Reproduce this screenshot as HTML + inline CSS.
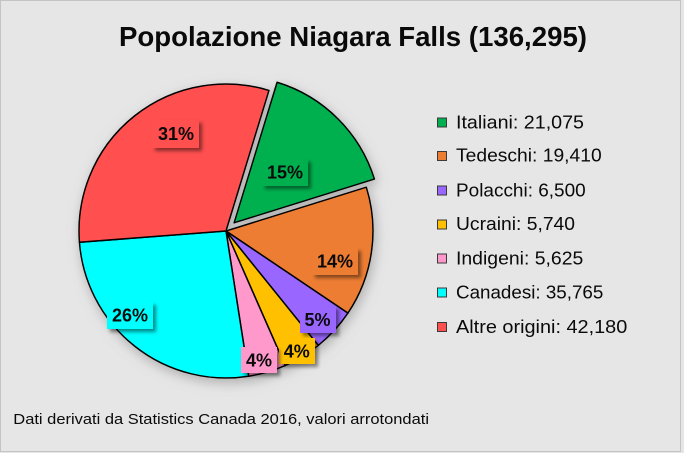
<!DOCTYPE html>
<html>
<head>
<meta charset="utf-8">
<style>
html,body{margin:0;padding:0;background:#e7e6e7;}
svg{display:block;}
text{font-family:"Liberation Sans",sans-serif;fill:#0a0a0a;}
</style>
</head>
<body>
<svg width="684" height="453" viewBox="0 0 684 453" xmlns="http://www.w3.org/2000/svg">
<defs>
<filter id="pieShadow" x="-20%" y="-20%" width="140%" height="140%">
<feGaussianBlur in="SourceAlpha" stdDeviation="6"/>
<feOffset dx="2" dy="4" result="b"/>
<feFlood flood-color="#808080" flood-opacity="0.55"/>
<feComposite in2="b" operator="in" result="s"/>
<feMerge><feMergeNode in="s"/><feMergeNode in="SourceGraphic"/></feMerge>
</filter>
<filter id="lblShadow" x="-30%" y="-30%" width="170%" height="170%">
<feGaussianBlur in="SourceAlpha" stdDeviation="1.8"/>
<feOffset dx="3" dy="3" result="b"/>
<feFlood flood-color="#000" flood-opacity="0.45"/>
<feComposite in2="b" operator="in" result="s"/>
<feMerge><feMergeNode in="s"/><feMergeNode in="SourceGraphic"/></feMerge>
</filter>
</defs>
<rect x="0" y="0" width="684" height="453" fill="#e7e6e7"/>
<rect x="0.5" y="0.5" width="680" height="451" fill="none" stroke="#c4c4c4" stroke-width="1"/>

<text x="119" y="46" font-size="27.5" font-weight="bold" textLength="468" lengthAdjust="spacingAndGlyphs">Popolazione Niagara Falls (136,295)</text>

<g filter="url(#pieShadow)" stroke="#000" stroke-width="1.5" stroke-linejoin="round">
<path d="M234.11,222.84 L277.09,82.26 A147,147 0 0 1 374.43,179.05 Z" fill="#00b050"/>
<path d="M226,231 L366.32,187.21 A147,147 0 0 1 347.94,313.10 Z" fill="#ed7d31"/>
<path d="M226,231 L347.94,313.10 A147,147 0 0 1 318.30,345.41 Z" fill="#9966ff"/>
<path d="M226,231 L318.30,345.41 A147,147 0 0 1 285.15,365.57 Z" fill="#ffc000"/>
<path d="M226,231 L285.15,365.57 A147,147 0 0 1 248.67,376.24 Z" fill="#ff99cc"/>
<path d="M226,231 L248.67,376.24 A147,147 0 0 1 79.43,242.28 Z" fill="#00ffff"/>
<path d="M226,231 L79.43,242.28 A147,147 0 0 1 268.98,90.42 Z" fill="#ff5050"/>
</g>

<g font-size="18" font-weight="bold" text-anchor="middle">
<rect x="152" y="120" width="47" height="28" fill="#ff5050" filter="url(#lblShadow)"/>
<text x="176" y="140">31%</text>
<rect x="262" y="159" width="46" height="27" fill="#00b050" filter="url(#lblShadow)"/>
<text x="285" y="178.3">15%</text>
<rect x="312" y="248" width="46" height="27" fill="#ed7d31" filter="url(#lblShadow)"/>
<text x="335" y="267.7">14%</text>
<rect x="300" y="306" width="36" height="27" fill="#9966ff" filter="url(#lblShadow)"/>
<text x="317.5" y="326">5%</text>
<rect x="279" y="338" width="36" height="26" fill="#ffc000" filter="url(#lblShadow)"/>
<text x="296.7" y="357.3">4%</text>
<rect x="241" y="347" width="36" height="26" fill="#ff99cc" filter="url(#lblShadow)"/>
<text x="259" y="366.7">4%</text>
<rect x="107" y="302" width="46" height="27" fill="#00ffff" filter="url(#lblShadow)"/>
<text x="130" y="321.7">26%</text>
</g>

<g stroke="#3a3a3a" stroke-width="1">
<rect x="437.5" y="118" width="9" height="9" fill="#00b050"/>
<rect x="437.5" y="151.5" width="9" height="9" fill="#ed7d31"/>
<rect x="437.5" y="186" width="9" height="9" fill="#9966ff"/>
<rect x="437.5" y="220" width="9" height="9" fill="#ffc000"/>
<rect x="437.5" y="254" width="9" height="9" fill="#ff99cc"/>
<rect x="437.5" y="288" width="9" height="9" fill="#00ffff"/>
<rect x="437.5" y="322.5" width="9" height="9" fill="#ff5050"/>
</g>
<g font-size="18">
<text x="456" y="128.3" textLength="128" lengthAdjust="spacingAndGlyphs">Italiani: 21,075</text>
<text x="456" y="161.7" textLength="145.7" lengthAdjust="spacingAndGlyphs">Tedeschi: 19,410</text>
<text x="456" y="196.3" textLength="129.7" lengthAdjust="spacingAndGlyphs">Polacchi: 6,500</text>
<text x="456" y="230" textLength="119" lengthAdjust="spacingAndGlyphs">Ucraini: 5,740</text>
<text x="456" y="264.3" textLength="127.3" lengthAdjust="spacingAndGlyphs">Indigeni: 5,625</text>
<text x="456" y="298.3" textLength="147.3" lengthAdjust="spacingAndGlyphs">Canadesi: 35,765</text>
<text x="456" y="333" textLength="171.3" lengthAdjust="spacingAndGlyphs">Altre origini: 42,180</text>
</g>

<text x="13.3" y="424" font-size="14.6" textLength="415.7" lengthAdjust="spacingAndGlyphs">Dati derivati da Statistics Canada 2016, valori arrotondati</text>
</svg>
</body>
</html>
